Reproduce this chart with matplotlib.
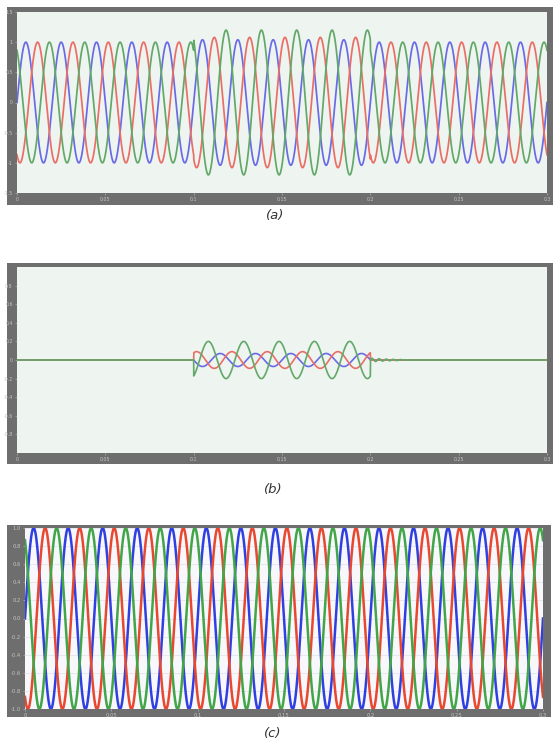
import numpy as np
import matplotlib
matplotlib.use("Agg")
import matplotlib.pyplot as plt
from matplotlib.patches import Rectangle

W, H = 553, 744

# ---- data ----
freq_hz = 50.0
phase_names = ["blue", "red", "green"]
phase_shift_deg = [0, -120, 120]

# (a) source voltage (pu): normal and disturbed amplitudes (0.1 s - 0.2 s)
a_amp_normal = [1.0, 1.0, 1.0]
a_amp_event = [1.04, 1.08, 1.2]
event_start, event_end = 0.1, 0.2

# (b) injected compensating voltage (pu) during the event
b_amp_event = [-0.07, -0.09, -0.2]
b_residual_amp = 0.02      # small green ringing after event
b_residual_dur = 0.018

# (c) load voltage (pu)
c_amp = [1.0, 1.0, 1.0]

a_xticks = [0, 0.05, 0.1, 0.15, 0.2, 0.25, 0.3]
a_xlabels = ["0", "0.05", "0.1", "0.15", "0.2", "0.25", "0.3"]
a_yticks = [-1.5, -1, -0.5, 0, 0.5, 1, 1.5]
b_yticks = [-0.8, -0.6, -0.4, -0.2, 0, 0.2, 0.4, 0.6, 0.8]
c_yticks = [-1, -0.8, -0.6, -0.4, -0.2, 0, 0.2, 0.4, 0.6, 0.8, 1]
c_xticks = [0, 0.05, 0.1, 0.15, 0.2, 0.25, 0.3]
c_xlabels = ["0", "0.05", "0.1", "0.15", "0.2", "0.25", "0.3"]

col_soft = {"blue": "#6a6ae6", "red": "#ea6e66", "green": "#62a868"}
col_c = {"blue": "#3040e0", "red": "#e8482f", "green": "#42a648"}

fig = plt.figure(figsize=(W / 100, H / 100), dpi=100)
fig.patch.set_facecolor("white")


def frac(x0, y0, x1, y1):
    return [x0 / W, 1 - y1 / H, (x1 - x0) / W, (y1 - y0) / H]


def frame(x0, y0, x1, y1):
    fig.patches.append(Rectangle((x0 / W, 1 - y1 / H), (x1 - x0) / W, (y1 - y0) / H,
                                 transform=fig.transFigure, facecolor="#6e6e6e",
                                 edgecolor="none", zorder=-5))


def style(ax, bg, lsize=3.4):
    ax.set_facecolor(bg)
    for s in ax.spines.values():
        s.set_visible(False)
    ax.tick_params(axis="both", length=1.5, width=0.4, colors="#c4c4c4",
                   labelsize=lsize, pad=1.5, direction="out")


t = np.linspace(0, 0.3, 6001)
w = 2 * np.pi * freq_hz
ev = (t >= event_start) & (t <= event_end)

# ---- (a) ----
frame(7, 7, 553, 205)
axa = fig.add_axes(frac(17, 12, 547, 193))
style(axa, "#eef4f0")
for i, name in enumerate(phase_names):
    ph = np.deg2rad(phase_shift_deg[i])
    amp = np.where(ev, a_amp_event[i], a_amp_normal[i])
    axa.plot(t, amp * np.sin(w * t + ph), color=col_soft[name], lw=1.25)
axa.set_xlim(0, 0.3)
axa.set_ylim(-1.5, 1.5)
axa.set_xticks(a_xticks, a_xlabels)
axa.set_yticks(a_yticks, [str(v) for v in a_yticks])
fig.text(275 / W, 1 - 215 / H, "(a)", ha="center", va="center", fontsize=9.5,
         style="italic", color="#333333")

# ---- (b) ----
frame(7, 263, 553, 464)
axb = fig.add_axes(frac(17, 267, 547, 453))
style(axb, "#eef4f0")
after = (t > event_end) & (t < event_end + b_residual_dur)
for i, name in enumerate(phase_names):
    ph = np.deg2rad(phase_shift_deg[i])
    y = np.where(ev, b_amp_event[i] * np.sin(w * t + ph), 0.0)
    if name == "green":
        tau = t - event_end
        y = y + np.where(after, b_residual_amp * np.sin(2 * np.pi * 250 * tau) *
                         np.exp(-tau / 0.012), 0.0)
    axb.plot(t, y, color=col_soft[name], lw=1.2, zorder=3 if name == "green" else 2)
axb.set_xlim(0, 0.3)
axb.set_ylim(-1, 1)
axb.set_xticks(a_xticks, a_xlabels)
axb.set_yticks(b_yticks, [str(v) for v in b_yticks])
fig.text(273 / W, 1 - 490 / H, "(b)", ha="center", va="center", fontsize=9.5,
         style="italic", color="#333333")

# ---- (c) ----
frame(7, 525, 551, 717)
axc = fig.add_axes(frac(25, 528, 543, 709))
style(axc, "#f8f8fc", lsize=3.8)
axc.grid(axis="y", color="#e4e4ee", lw=0.6)
axc.set_axisbelow(True)
for i, name in enumerate(phase_names):
    ph = np.deg2rad(phase_shift_deg[i])
    axc.plot(t, c_amp[i] * np.sin(w * t + ph), color=col_c[name], lw=1.8)
axc.set_xlim(0, 0.296)
axc.set_ylim(-0.99, 0.99)
axc.set_xticks(c_xticks, c_xlabels)
axc.set_yticks(c_yticks, [f"{v:.1f}" for v in c_yticks])
fig.text(273 / W, 1 - 733 / H, "(c)", ha="center", va="center", fontsize=9.5,
         style="italic", color="#333333")

fig.savefig("out.png", dpi=100, facecolor="white")
